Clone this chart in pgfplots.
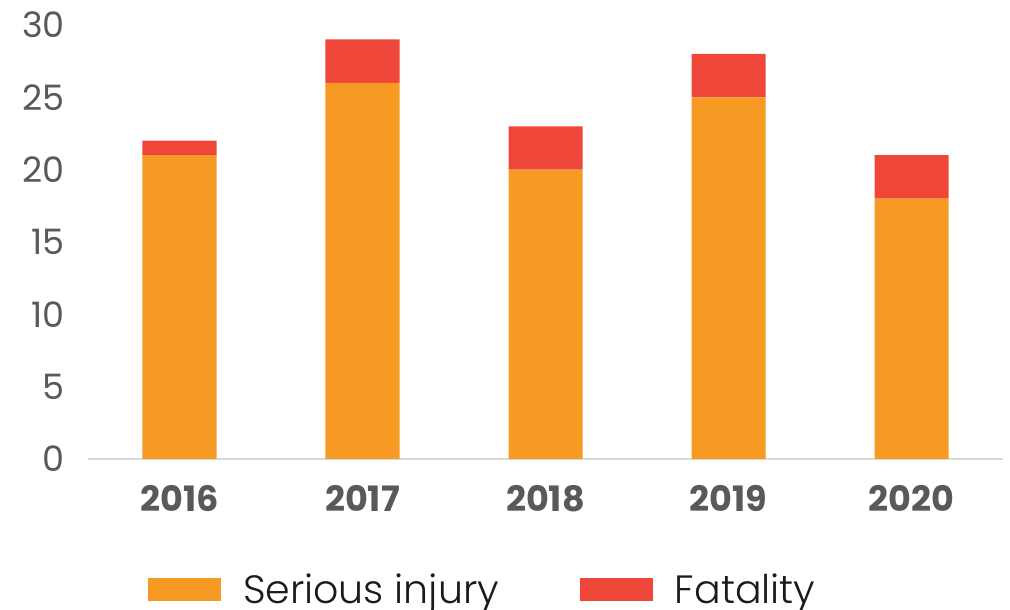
\documentclass[border=0pt]{standalone}
\usepackage{fontspec}
\setmainfont{Poppins}
\newfontfamily\lightfont{Poppins Light}
\usepackage{pgfplots}
\pgfplotsset{compat=1.18}
\definecolor{orng}{RGB}{246,154,35}
\definecolor{redc}{RGB}{238,70,56}
\definecolor{tickgray}{RGB}{89,89,89}
\definecolor{axgray}{RGB}{217,217,217}
\definecolor{legtext}{RGB}{26,26,26}
\begin{document}
\begin{tikzpicture}[x=1pt,y=1pt]
\begin{axis}[
  at={(88pt,151pt)}, anchor=south west,
  scale only axis, width=915pt, height=434pt,
  xmin=-0.5, xmax=4.5, ymin=0, ymax=30,
  ybar stacked, bar width=74pt,
  axis lines*=left,
  x axis line style={draw=axgray, line width=2pt, -},
  y axis line style={draw=none},
  major tick length=0pt,
  tick style={draw=none},
  xtick={0,1,2,3,4},
  xticklabels={2016,2017,2018,2019,2020},
  ytick={0,5,10,15,20,25,30},
  /pgf/number format/assume math mode=true,
  yticklabel style={font=\fontsize{35}{40}\selectfont, text=tickgray, inner sep=0pt, anchor=east, xshift=-23pt},
  xticklabel style={font=\fontsize{35}{40}\selectfont\bfseries, text=tickgray, inner sep=0pt, anchor=north, yshift=-26pt},
  legend columns=2,
  legend style={at={(0.0656,-0.3007)}, anchor=west, draw=none, inner sep=0pt, outer sep=0pt,
    font=\lightfont\fontsize{39.5}{42}\selectfont, text=legtext,
    nodes={inner sep=0pt},
    /tikz/every odd column/.append style={column sep=22pt},
    /tikz/every even column/.append style={column sep=81pt}},
  legend image code/.code={\fill[#1] (0pt,-11.5pt) rectangle (73pt,11.5pt);},
]
\addplot[fill=orng, draw=none] coordinates {(0,21) (1,26) (2,20) (3,25) (4,18)};
\addlegendentry{Serious injury}
\addplot[fill=redc, draw=none] coordinates {(0,1) (1,3) (2,3) (3,3) (4,3)};
\addlegendentry{Fatality}
\end{axis}
\pgfresetboundingbox
\path[use as bounding box] (0,0) rectangle (1010,610);
\end{tikzpicture}
\end{document}
